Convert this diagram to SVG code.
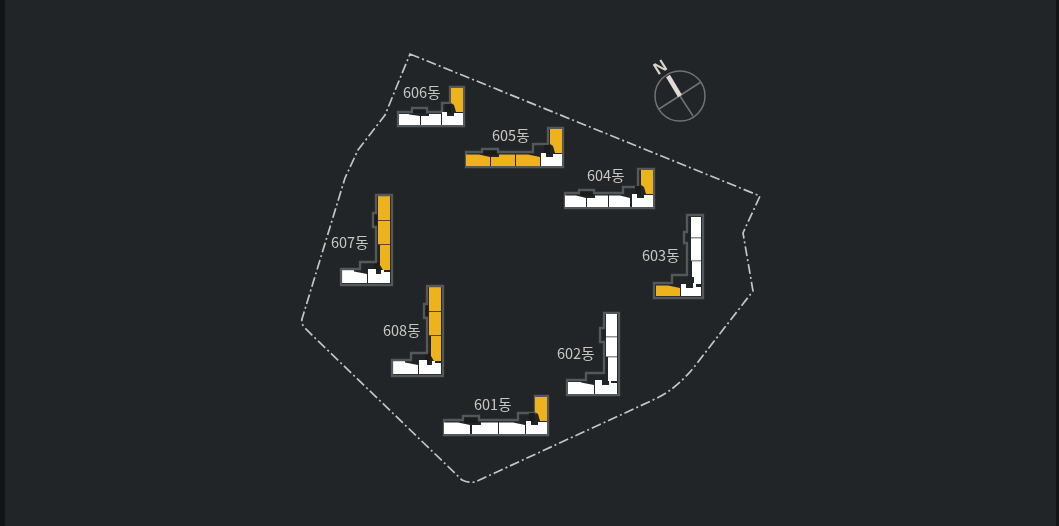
<svg xmlns="http://www.w3.org/2000/svg" width="1059" height="526" viewBox="0 0 1059 526">
<style>
.o{fill:none;stroke:#55585a;stroke-width:2.3;stroke-linejoin:miter}
.w{fill:#fff}
.y{fill:#edb21f}
.d{fill:#1a1c1e}
.t{font-family:"Noto Sans CJK KR","Noto Sans",sans-serif;font-size:14.5px;fill:#c9c5bf}
</style>
<defs>
<filter id="soft" x="-2%" y="-2%" width="104%" height="104%"><feGaussianBlur stdDeviation="0.5"/></filter>
<g id="corner">
<path class="d" d="M-20,-23H-14V-14H-20Z"/>
<path class="w" d="M-23,-2V-15H-18V-11H-11V-14H-2V-2Z"/>
</g>
<path id="wing" class="y" d="M-14,-39H-2V-15H-9L-11,-22L-14,-24Z"/>
<g id="wingy">
<path class="y" d="M-14,-89H-2V-64.800H-14ZM-14,-64H-2V-40.800H-14ZM-12,-40H-2V-15H-9L-12,-20Z"/>
</g>
<g id="foot">
<path class="d" d="M-20,-71H-15V-60H-20ZM-18,-23H-13V-15H-18Z"/>
<path class="w" d="M-50,-2V-15H-38V-13.500L-25,-11V-2ZM-24,-2V-16H-16V-11H-11V-15H-8V-13H-2V-2Z"/>
</g>
<path id="tall" class="o" d="M-51,0V-16H-32V-23H-16V-58H-19V-72H-16V-90H0V0Z"/>
</defs>
<rect width="1059" height="526" fill="#212528"/>
<rect width="5" height="526" fill="#131416"/>
<rect x="1056" width="3" height="526" fill="#131416"/>
<g filter="url(#soft)">
<g id="connectors">
<path d="M410,54L760,196L743,233L753,291L698,362Q686,378 673,388Q664,395 653,400L475,482Q468,483 462,480L315,338L304,327Q301,323 302,319L345,178L358,150L385,115Z" fill="none" stroke="#c4c4c4" stroke-width="1.7" stroke-dasharray="10 3 2 3"/>
</g>
<g id="compass">
<circle cx="680" cy="96" r="25" fill="none" stroke="#707274" stroke-width="1.5"/>
<path d="M659,109L701,82M680,96L693,116" stroke="#707274" stroke-width="1.5" fill="none"/>
<path d="M680,96L668,76" stroke="#e0dad2" stroke-width="4.500" fill="none"/>
<text transform="translate(660,67) rotate(-32)" y="6" text-anchor="middle" font-family="Liberation Sans,sans-serif" font-size="17" font-weight="bold" fill="#d9d3cb">N</text>
</g>
<g id="b606" transform="translate(465,127)">
<path class="d" d="M-52,-19H-39V-14H-52Z"/>
<path class="o" d="M-67,-1V-15H-53V-19H-38V-15H-23V-24H-15V-40H-1V-1Z"/>
<path class="w" d="M-66,-2V-13H-56V-12.500L-45,-11V-2ZM-44,-2V-11H-36V-13H-24V-2Z"/>
<use href="#corner"/><use href="#wing"/>
<text class="t" x="-62" y="-29">606동</text>
</g>
<g id="b605" transform="translate(564,168)">
<path class="d" d="M-81,-19H-67V-13H-81Z"/>
<path class="o" d="M-98,-1V-16H-82V-19H-66V-16H-31V-24H-16V-40H-1V-1Z"/>
<path class="y" d="M-98,-2V-13.500H-85L-74,-11V-2ZM-73,-2V-11H-65V-13.500H-49V-2ZM-48,-2V-13.500H-36L-24,-11V-2Z"/>
<use href="#corner"/><use href="#wing"/>
<text class="t" x="-72" y="-27">605동</text>
</g>
<g id="b604" transform="translate(655,209)">
<path class="d" d="M-75,-19H-62V-13H-75Z"/>
<path class="o" d="M-90,-1V-16H-76V-19H-61V-16H-32V-22H-17V-40H-1V-1Z"/>
<path class="w" d="M-90,-2V-13.500H-79L-69,-11V-2ZM-68,-2V-11H-60V-13.500H-47V-2ZM-46,-2V-13.500H-35L-25,-11V-2Z"/>
<use href="#corner"/><use href="#wing"/>
<text class="t" x="-68" y="-28">604동</text>
</g>
<g id="b601" transform="translate(549,436)">
<path class="d" d="M-85,-20H-71V-13H-85Z"/>
<path class="o" d="M-105,-1V-16H-86V-20H-70V-16H-31V-23H-14V-40H-1V-1Z"/>
<path class="w" d="M-105,-2V-13.500H-91L-79,-11V-2ZM-77,-2V-11H-68V-13.500H-51V-2ZM-50,-2V-13.500H-36L-24,-11V-2Z"/>
<use href="#corner"/><use href="#wing"/>
<text class="t" x="-75" y="-26">601동</text>
</g>
<g id="b607" transform="translate(392,285)">
<use href="#foot"/><use href="#wingy"/><use href="#tall"/>
<text class="t" x="-61" y="-37">607동</text>
</g>
<g id="b608" transform="translate(443,376)">
<use href="#foot"/><use href="#wingy"/><use href="#tall"/>
<text class="t" x="-60" y="-40">608동</text>
</g>
<g id="b603" transform="translate(704,299)">
<path class="o" d="M-50,-1V-16H-32V-24H-17V-56H-20V-67H-17V-84H-1V-1Z"/>
<path class="w" d="M-13,-82H-3V-61.500H-13ZM-13,-60.700H-3V-38.500H-13ZM-12,-37.700H-3V-15H-10V-22H-12Z"/>
<path class="y" d="M-48,-3V-13.500H-36L-24,-11V-3Z"/>
<path class="w" d="M-23,-3V-15H-18V-11H-11V-16H-8V-12H-3V-3Z"/>
<text class="t" x="-62" y="-38">603동</text>
</g>
<g id="b602" transform="translate(619,396)">
<path class="o" d="M-52,-1V-16H-33V-23H-15V-54H-19V-68H-15V-83H0V-1Z"/>
<path class="w" d="M-13,-82H-2V-59.500H-13ZM-13,-58.700H-2V-39.500H-13ZM-11,-38.700H-2V-15H-11Z"/>
<path class="w" d="M-51,-2V-14H-38V-13.500L-25,-11V-2ZM-24,-2V-16H-17V-11H-10V-15H-8V-13H-2V-2Z"/>
<text class="t" x="-62" y="-37">602동</text>
</g>
</g>
</svg>
